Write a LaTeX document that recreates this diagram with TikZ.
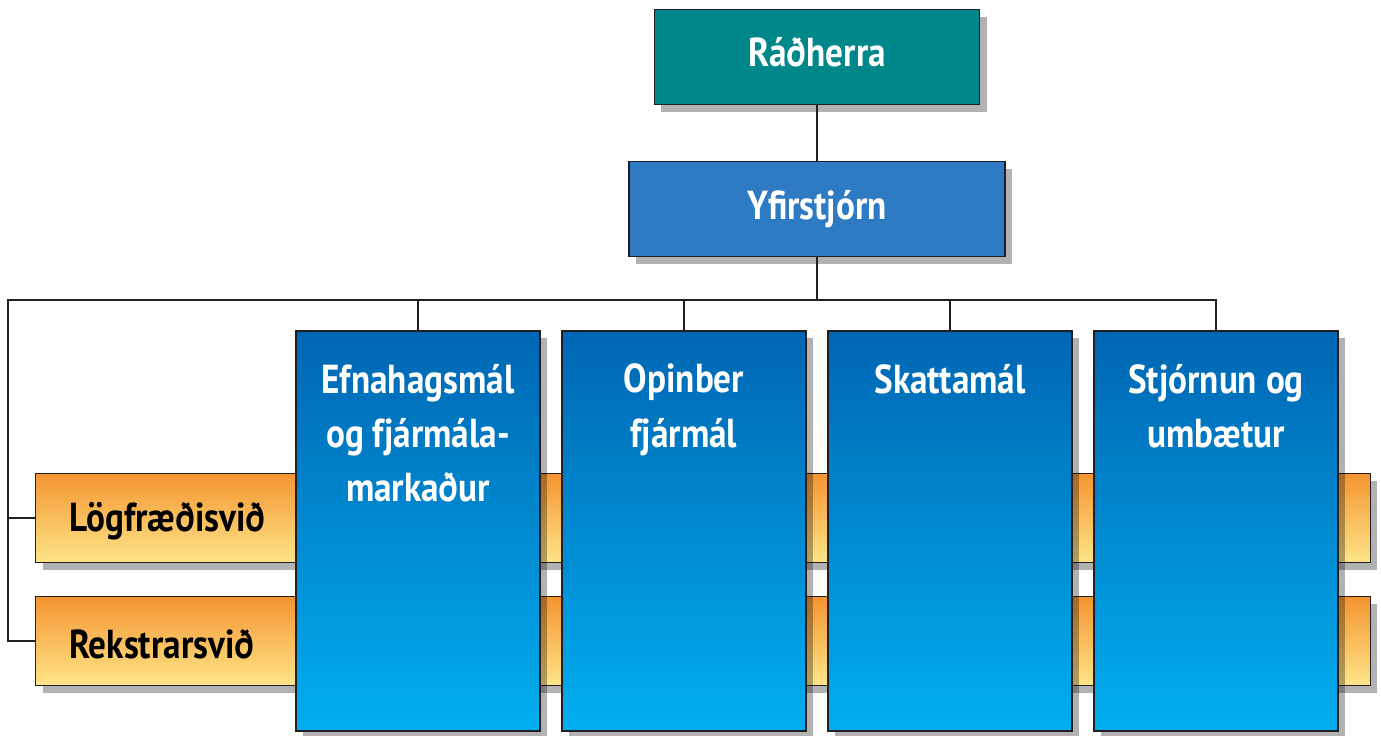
\documentclass[tikz,border=0pt]{standalone}
\usepackage{fontspec}
\setmainfont{PT Sans}[FakeStretch=0.87]
\usetikzlibrary{shadows}
\definecolor{radteal}{RGB}{0,135,138}
\definecolor{yfirblue}{RGB}{47,123,195}
\definecolor{coltop}{RGB}{0,102,179}
\definecolor{colbottom}{RGB}{0,174,239}
\definecolor{bartop}{RGB}{244,149,49}
\definecolor{barbottom}{RGB}{254,229,136}
\definecolor{inkline}{RGB}{35,31,32}

\begin{document}
\begin{tikzpicture}[x=0.01cm, y=-0.01cm,
    every node/.style={
        rectangle,
        inner sep=0pt,
        font=\fontsize{11.5}{15.4}\selectfont\bfseries
    },
    every label/.style={draw=none, inner sep=0pt, align=center},
    boxshadow/.style={drop shadow={shadow xshift=2pt, shadow yshift=-2pt, fill=black, opacity=0.3}},
    topbox/.style={draw=inkline, line width=0.5pt, boxshadow, text=white},
    column/.style={draw=inkline, line width=0.6pt, boxshadow,
        top color=coltop, bottom color=colbottom,
        minimum width=2.43cm, minimum height=3.99cm},
    staffbar/.style={draw=inkline, line width=0.5pt, boxshadow,
        top color=bartop, bottom color=barbottom,
        minimum width=13.34cm, minimum height=0.89cm},
    link/.style={draw=inkline, line width=0.6pt}
]
    \useasboundingbox (0, 0) rectangle (1381, 735);

    \node (radherra) [topbox, fill=radteal, minimum width=3.25cm, minimum height=0.95cm, shift={(817, 57)}]
    {
        \raisebox{3pt}{Ráðherra}
    };
    \node (yfirstjorn) [topbox, fill=yfirblue, minimum width=3.76cm, minimum height=0.95cm, shift={(817, 209)}]
    {
        Yfirstjórn
    };

    % stodsvid, behind the columns
    \node (logfraedi) [staffbar, shift={(703, 518)},
        label={[anchor=west, xshift=0.34cm, yshift=-1pt]west:Lögfræðisvið}] {};
    \node (rekstur) [staffbar, shift={(703, 641)},
        label={[anchor=west, xshift=0.34cm, yshift=-1pt]west:Rekstrarsvið}] {};

    % skrifstofur
    \node (efnahagsmal) [column, shift={(418, 531)},
        label={[anchor=north, yshift=-0.33cm, text=white]north:Efnahagsmál\\og fjármála-\\markaður}] {};
    \node (opinber) [column, shift={(684, 531)},
        label={[anchor=north, yshift=-0.33cm, text=white]north:Opinber\\fjármál}] {};
    \node (skattamal) [column, shift={(950, 531)},
        label={[anchor=north, yshift=-0.33cm, text=white]north:Skattamál}] {};
    \node (stjornun) [column, shift={(1216, 531)},
        label={[anchor=north, yshift=-0.33cm, text=white]north:Stjórnun og\\umbætur}] {};

    \coordinate (bus) at (817, 300);
    \coordinate (busleft) at (8, 300);

    \draw[link] (radherra) -- (yfirstjorn);
    \draw[link] (yfirstjorn) -- (bus);
    \draw[link] (bus) -| (efnahagsmal.north);
    \draw[link] (bus) -| (opinber.north);
    \draw[link] (bus) -| (skattamal.north);
    \draw[link] (bus) -| (stjornun.north);
    \draw[link] (bus) -- (busleft) |- (logfraedi.west);
    \draw[link] (busleft) |- (rekstur.west);
\end{tikzpicture}
\end{document}
